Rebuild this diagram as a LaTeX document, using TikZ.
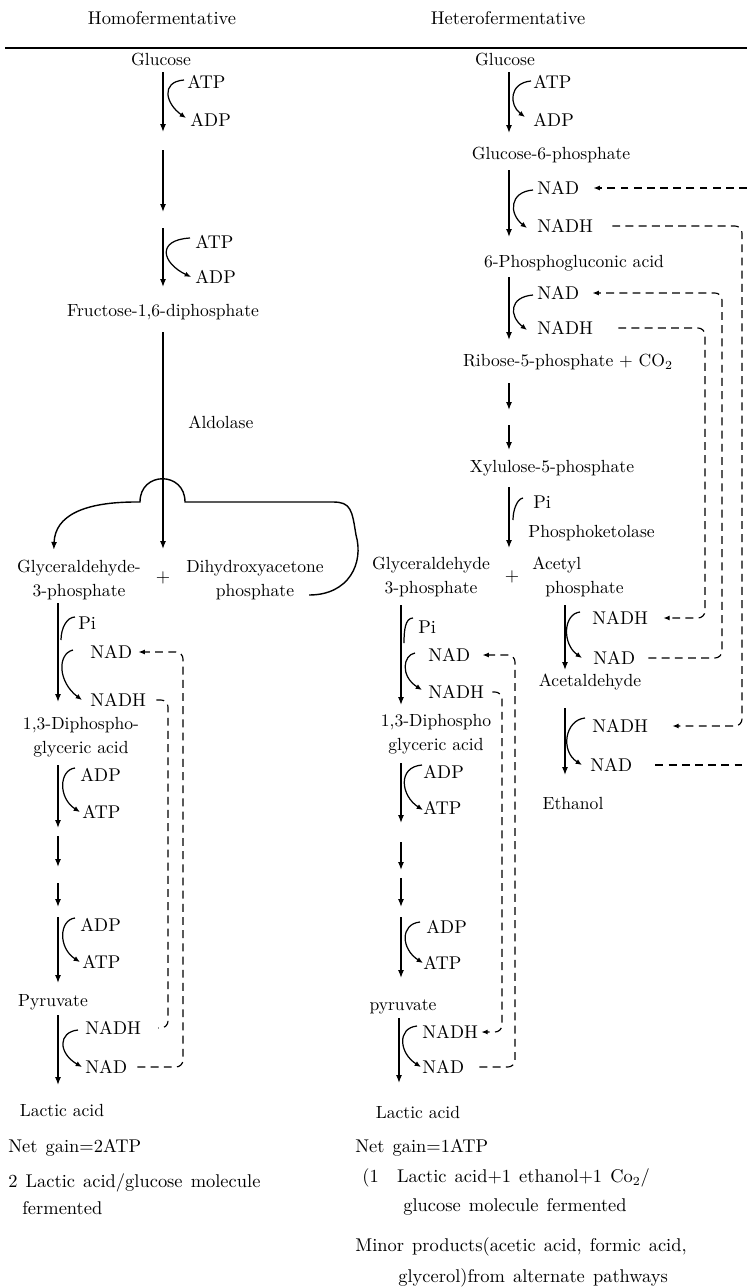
\documentclass[tikz,border=0pt]{standalone}
\usepackage{tikz}
\usetikzlibrary{arrows.meta, positioning, calc}

\newcommand{\gainfont}{\fontsize{10.5}{15.3}\selectfont\spaceskip=4.6pt plus 1pt\relax}

\tikzset{
  cmpd/.style={font=\fontsize{10}{13.5}\selectfont, inner sep=0pt, align=center},
  cof/.style={font=\fontsize{10.5}{12}\selectfont, inner sep=0pt, anchor=west},
  hdr/.style={font=\fontsize{10.5}{12}\selectfont, inner sep=0pt},
  note/.style={font=\gainfont, inner sep=0pt, anchor=west, align=left},
  flow/.style={line width=0.8pt, -{Latex[length=4.5pt,width=3.4pt]}},
  cofarr/.style={line width=0.7pt, -{Latex[length=3.6pt,width=3pt]}},
  hook/.style={line width=0.7pt},
  recyc/.style={line width=0.65pt, dash pattern=on 4.5pt off 3pt, rounded corners=4pt},
  recyctip/.style={recyc, -{Latex[length=3.6pt,width=2.8pt]}},
}

\begin{document}
\begin{tikzpicture}[x=0.02cm, y=-0.02cm]
\useasboundingbox (0,0) rectangle (747,1288);

% headings and rule
\node[hdr] (homoT) at (162,18) {Homofermentative};
\node[hdr] (heteroT) at (508,18) {Heterofermentative};
\draw[line width=1pt] (5,48) -- (747,48);

% main arrows of both pathways
\foreach \n/\x/\ya/\yb in {hA1/163/72/132, hA2/163/150/212, hA3/163/228/287, hA4/163/332/549,
    hB1/58/603/702, hB2/58/765/828, hB3/58/836/867, hB4/58/883/907, hB5/58/917/983, hB6/58/1015/1085,
    tA1/509/72/133, tA2/509/170/237, tA3/509/277/340, tA4/509/383/410, tA5/509/425/450, tA6/509/487/548,
    tB1/401/605/705, tB2/401/763/823, tB3/401/842/870, tB4/401/878/907, tB5/401/917/978, tB6/399/1018/1083,
    tC1/565/605/670, tC2/565/708/775}{
  \coordinate (\n-t) at (\x,\ya);
  \coordinate (\n-b) at (\x,\yb);
  \draw[flow] (\n-t) -- (\n-b);
}

% homofermentative
\node[cmpd] (glcA) at (161,59) {Glucose};
\node[cof] (atpA) at (187,82) {ATP};
\node[cof] (adpA) at (190,120) {ADP};
\node[cof] (atpB) at (195,242) {ATP};
\node[cof] (adpB) at (195,277) {ADP};
\node[cmpd] (fdp) at (163,312) {Fructose-1,6-diphosphate};
\node[cmpd, anchor=west] (aldo) at (188,422) {Aldolase};
\node[cmpd] (g3pA) at (79,580) {Glyceraldehyde-\\3-phosphate};
\node[cof, anchor=center] (plusA) at (163,578) {+};
\node[cmpd] (dhap) at (255,580) {Dihydroxyacetone\\phosphate};
\node[cof] (piA) at (78,623) {Pi};
\node[cof] (nadA) at (90,652) {NAD};
\node[cof] (nadhA) at (90,700) {NADH};
\node[cmpd] (dpgA) at (81,737) {1,3-Diphospho-\\glyceric acid};
\node[cof] (adpC) at (80,775) {ADP};
\node[cof] (atpC) at (82,812) {ATP};
\node[cof] (adpD) at (80,925) {ADP};
\node[cof] (atpD) at (82,962) {ATP};
\node[cmpd] (pyrA) at (53,1002) {Pyruvate};
\node[cof] (nadhD) at (85,1028) {NADH};
\node[cof] (nadD) at (85,1067) {NAD};
\node[cmpd] (lacA) at (62,1110) {Lactic acid};
\node[note] (gainA) at (8,1148) {Net gain=2ATP};
\node[note] (yieldA) at (8,1194) {2 Lactic acid/glucose molecule\\\hspace*{0.28cm}fermented};

% DHAP back to glyceraldehyde-3-phosphate, over the aldolase arrow
\draw[flow] ($(dhap.east)+(-15,15)$) .. controls +(40,0) and +(8,28) .. (356,535)
  .. controls +(-4,-25) and +(18,0) .. (333,502) -- (185,502)
  .. controls (185,471) and (140,471) .. (140,502) -- (136,502)
  .. controls (85,502) and (55,515) .. ($(g3pA.north west)+(37,-10)$);

% cofactor side arrows (homo)
\draw[cofarr] ($(atpA.west)+(-3,-2)$) .. controls +(-24,2) and +(-20,-14) .. ($(adpA.west)+(-4,-2)$);
\draw[cofarr] ($(atpB.west)+(-5,-4)$) .. controls +(-34,2) and +(-29,-14) .. ($(adpB.west)+(-4,0)$);
\draw[hook] ($(piA.west)+(-3,-6)$) .. controls +(-8,0) and +(0,-12) .. ($(piA.west)+(-17,17)$);
\draw[cofarr] ($(nadA.west)+(-17,-2)$) .. controls +(-16,4) and +(-24,-18) .. ($(nadhA.west)+(-8,0)$);
\draw[cofarr] ($(adpC.west)+(-5,-7)$) .. controls +(-16,2) and +(-22,-14) .. ($(atpC.west)+(-2,0)$);
\draw[cofarr] ($(adpD.west)+(-5,-7)$) .. controls +(-16,2) and +(-22,-14) .. ($(atpD.west)+(-2,0)$);
\draw[cofarr] ($(nadhD.west)+(-7,2)$) .. controls +(-20,2) and +(-24,-14) .. ($(nadD.west)+(-3,0)$);

% NAD / NADH recycling (homo)
\coordinate (laneA) at (183,0);
\coordinate (laneB) at (168,0);
\draw[recyctip] ($(nadD.east)+(10,0)$) -- (nadD.east -| laneA) -- (nadA.east -| laneA) -- ($(nadA.east)+(6,0)$);
\draw[recyc] ($(nadhA.east)+(10,0)$) -- (nadhA.east -| laneB) -- (nadhD.east -| laneB) -- ($(nadhD.east)+(17,0)$);

% heterofermentative
\node[cmpd] (glcB) at (505,59) {Glucose};
\node[cof] (atpH) at (533,82) {ATP};
\node[cof] (adpH) at (533,120) {ADP};
\node[cmpd] (g6p) at (551,155) {Glucose-6-phosphate};
\node[cof] (nadH1) at (537,188) {NAD};
\node[cof] (nadhH1) at (537,226) {NADH};
\node[cmpd] (pga) at (574,263) {6-Phosphogluconic acid};
\node[cof] (nadH2) at (537,293) {NAD};
\node[cof] (nadhH2) at (537,328) {NADH};
\node[cmpd] (r5p) at (568,362) {Ribose-5-phosphate + CO$_2$};
\node[cmpd] (x5p) at (552,468) {Xylulose-5-phosphate};
\node[cof] (piH) at (533,502) {Pi};
\node[cmpd, anchor=west] (pkl) at (528,533) {Phosphoketolase};
\node[cmpd] (g3pB) at (431,577) {Glyceraldehyde\\3-phosphate};
\node[cof, anchor=center] (plusB) at (512,577) {+};
\node[cmpd, anchor=west, align=left] (acp) at (532,577) {Acetyl\\\hspace*{0.26cm}phosphate};
\node[cof] (piH2) at (418,627) {Pi};
\node[cof] (nadH3) at (428,655) {NAD};
\node[cof] (nadhH3) at (428,692) {NADH};
\node[cmpd] (dpgB) at (436,734) {1,3-Diphospho\\glyceric acid};
\node[cof] (adpH3) at (423,772) {ADP};
\node[cof] (atpH3) at (423,808) {ATP};
\node[cof] (adpH4) at (426,927) {ADP};
\node[cof] (atpH4) at (423,963) {ATP};
\node[cmpd] (pyrB) at (403,1007) {pyruvate};
\node[cof] (nadhH4) at (422,1032) {NADH};
\node[cof] (nadH4) at (422,1067) {NAD};
\node[cmpd] (lacB) at (418,1112) {Lactic acid};
\node[cof] (nadhE1) at (592,618) {NADH};
\node[cof] (nadE1) at (593,658) {NAD};
\node[cmpd] (acald) at (590,682) {Acetaldehyde};
\node[cof] (nadhE2) at (592,726) {NADH};
\node[cof] (nadE2) at (590,765) {NAD};
\node[cmpd] (etoh) at (573,803) {Ethanol};
\node[note] (gainB) at (355,1148) {Net gain=1ATP};
\node[note] (yieldB) at (362,1178) {(1\quad Lactic acid+1 ethanol+1 Co$_2$/};
\node[note] (yieldB2) at (403,1207) {glucose molecule fermented};
\node[note] (minorB) at (355,1247) {Minor products(acetic acid, formic acid,};
\node[note] (minorB2) at (398,1278) {glycerol)from alternate pathways};

% cofactor side arrows (hetero)
\draw[cofarr] ($(atpH.west)+(-2,-1)$) .. controls +(-22,2) and +(-16,-12) .. ($(adpH.west)+(-8,-3)$);
\draw[cofarr] ($(nadH1.west)+(-4,2)$) .. controls +(-24,2) and +(-18,-14) .. ($(nadhH1.west)+(-10,2)$);
\draw[cofarr] ($(nadH2.west)+(-4,2)$) .. controls +(-24,2) and +(-18,-14) .. ($(nadhH2.west)+(-10,2)$);
\draw[hook] ($(piH.west)+(-10,-4)$) .. controls +(-6,1) and +(0,-10) .. ($(piH.west)+(-20,18)$);
\draw[hook] ($(piH2.west)+(-5,-9)$) .. controls +(-8,0) and +(0,-12) .. ($(piH2.west)+(-14,16)$);
\draw[cofarr] ($(nadH3.west)+(-13,-2)$) .. controls +(-12,2) and +(-22,-14) .. ($(nadhH3.west)+(-6,-2)$);
\draw[cofarr] ($(adpH3.west)+(-1,-7)$) .. controls +(-25,2) and +(-22,-14) .. ($(atpH3.west)+(0,2)$);
\draw[cofarr] ($(adpH4.west)+(-6,-5)$) .. controls +(-20,2) and +(-22,-14) .. ($(atpH4.west)+(0,0)$);
\draw[cofarr] ($(nadhH4.west)+(-5,-6)$) .. controls +(-20,2) and +(-22,-14) .. ($(nadH4.west)+(-1,0)$);
\draw[cofarr] ($(nadhE1.west)+(-12,-6)$) .. controls +(-17,2) and +(-20,-14) .. ($(nadE1.west)+(-11,0)$);
\draw[cofarr] ($(nadhE2.west)+(-7,-8)$) .. controls +(-20,2) and +(-22,-14) .. ($(nadE2.west)+(-8,0)$);

% NAD / NADH recycling (hetero)
\coordinate (laneC) at (742,0);
\coordinate (laneD) at (705,0);
\coordinate (laneE) at (722,0);
\coordinate (laneF) at (502,0);
\coordinate (laneG) at (515,0);
\coordinate (rim) at (747,0);
\draw[recyctip] ($(nadhH1.east)+(19,0)$) -- (nadhH1.east -| laneC) -- (nadhE2.east -| laneC) -- ($(nadhE2.east)+(24,0)$);
\draw[recyc] ($(nadE2.east)+(23,0)$) -- (nadE2.east -| rim);
\draw[recyctip] (nadH1.east -| rim) -- ($(nadH1.east)+(14,0)$);
\draw[recyctip] ($(nadhH2.east)+(25,0)$) -- (nadhH2.east -| laneD) -- (nadhE1.east -| laneD) -- ($(nadhE1.east)+(15,0)$);
\draw[recyctip] ($(nadE1.east)+(13,0)$) -- (nadE1.east -| laneE) -- (nadH2.east -| laneE) -- ($(nadH2.east)+(13,0)$);
\draw[recyctip] ($(nadhH3.east)+(8,0)$) -- (nadhH3.east -| laneF) -- (nadhH4.east -| laneF) -- ($(nadhH4.east)+(3,0)$);
\draw[recyctip] ($(nadH4.east)+(15,0)$) -- (nadH4.east -| laneG) -- (nadH3.east -| laneG) -- ($(nadH3.east)+(12,0)$);
\end{tikzpicture}
\end{document}
